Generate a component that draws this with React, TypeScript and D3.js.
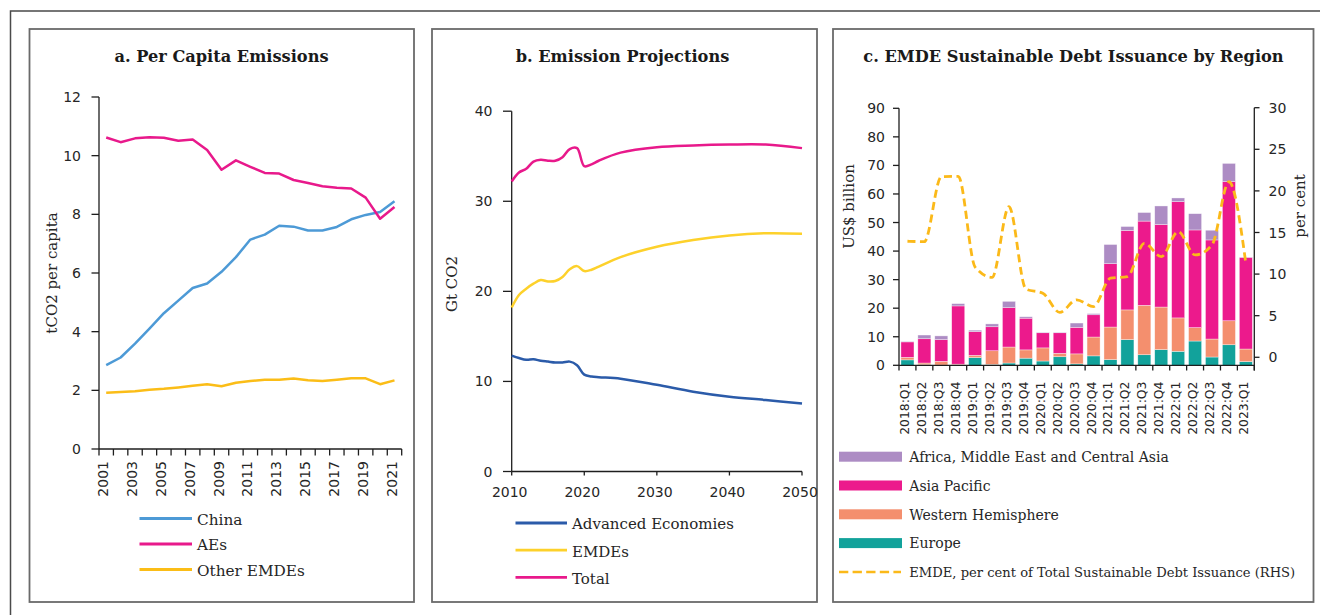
import React from "react";
import * as d3 from "d3";

// ---------- Panel a data ----------
const yearsA = [2001, 2002, 2003, 2004, 2005, 2006, 2007, 2008, 2009, 2010, 2011, 2012, 2013, 2014, 2015, 2016, 2017, 2018, 2019, 2020, 2021];
const chinaA = [2.86, 3.12, 3.59, 4.1, 4.63, 5.06, 5.49, 5.64, 6.04, 6.54, 7.14, 7.31, 7.61, 7.58, 7.45, 7.45, 7.57, 7.83, 7.98, 8.08, 8.45];
const aesA = [10.62, 10.46, 10.59, 10.63, 10.61, 10.51, 10.55, 10.19, 9.52, 9.84, 9.62, 9.41, 9.39, 9.17, 9.07, 8.96, 8.91, 8.88, 8.57, 7.85, 8.25];
const otherA = [1.92, 1.94, 1.97, 2.02, 2.05, 2.1, 2.16, 2.21, 2.14, 2.26, 2.32, 2.36, 2.36, 2.4, 2.34, 2.32, 2.36, 2.41, 2.41, 2.21, 2.34];
const yTicksA = [0, 2, 4, 6, 8, 10, 12];
const xLabelsA = [2001, 2003, 2005, 2007, 2009, 2011, 2013, 2015, 2017, 2019, 2021];

// ---------- Panel b data ----------
const yearsB = [2010, 2011, 2012, 2013, 2014, 2015, 2016, 2017, 2018, 2019, 2020, 2021, 2022, 2025, 2030, 2035, 2040, 2045, 2050];
const aeB = [12.87, 12.6, 12.4, 12.45, 12.3, 12.2, 12.1, 12.1, 12.2, 11.8, 10.75, 10.55, 10.47, 10.3, 9.62, 8.86, 8.3, 7.94, 7.55];
const emdeB = [18.2, 19.6, 20.3, 20.85, 21.25, 21.1, 21.15, 21.6, 22.45, 22.8, 22.25, 22.4, 22.75, 23.8, 24.95, 25.7, 26.2, 26.45, 26.4];
const totalB = [32.2, 33.2, 33.6, 34.4, 34.6, 34.5, 34.5, 34.9, 35.8, 35.9, 33.9, 34.1, 34.5, 35.4, 36.0, 36.2, 36.3, 36.3, 35.9];
const yTicksB = [0, 10, 20, 30, 40];
const xTicksB = [2010, 2020, 2030, 2040, 2050];

// ---------- Panel c data ----------
const quarters = ["2018:Q1", "2018:Q2", "2018:Q3", "2018:Q4", "2019:Q1", "2019:Q2", "2019:Q3", "2019:Q4", "2020:Q1", "2020:Q2", "2020:Q3", "2020:Q4", "2021:Q1", "2021:Q2", "2021:Q3", "2021:Q4", "2022:Q1", "2022:Q2", "2022:Q3", "2022:Q4", "2023:Q1"];
const europe = [1.9, 0.2, 0.1, 0.1, 2.7, 0.3, 0.8, 2.5, 1.5, 3.0, 0.5, 3.3, 2.0, 9.0, 3.7, 5.5, 4.9, 8.5, 2.9, 7.2, 1.3];
const westernHem = [0.9, 0.6, 1.3, 0.3, 0.8, 4.8, 5.6, 2.9, 4.6, 1.2, 3.5, 6.6, 11.4, 10.4, 17.3, 14.9, 11.7, 4.7, 6.3, 8.4, 4.4];
const asiaPacific = [5.4, 8.5, 7.6, 20.4, 8.3, 8.4, 13.8, 11.1, 5.3, 7.2, 9.3, 7.8, 22.2, 27.8, 29.5, 28.9, 40.7, 34.2, 34.7, 48.7, 32.1];
const africaMECA = [0.2, 1.3, 1.3, 0.8, 0.5, 1.0, 2.2, 0.5, 0.2, 0.2, 1.5, 0.4, 6.7, 1.4, 3.0, 6.5, 1.3, 5.7, 3.4, 6.4, 0.1];
const emdeShare = [13.95, 13.9, 21.7, 21.75, 10.85, 9.6, 18.1, 8.2, 7.7, 5.4, 6.9, 6.1, 9.5, 9.7, 13.7, 12.1, 15.1, 12.3, 13.5, 21.1, 11.3];
const yTicksCL = [0, 10, 20, 30, 40, 50, 60, 70, 80, 90];
const yTicksCR = [0, 5, 10, 15, 20, 25, 30];

const SERIF = "'DejaVu Serif', serif";
const SANS = "'DejaVu Sans', sans-serif";
const TXT = "#262626";
const AX = "#1e1e1e";

const C = {
  china: "#4d9ad6",
  aes: "#e8198b",
  other: "#fbbd17",
  aeB: "#2b5ba9",
  emdeB: "#fdd12b",
  totalB: "#e8198b",
  ameca: "#ad8cc4",
  ap: "#ec1a8c",
  wh: "#f48f6e",
  eu: "#12a29b",
  dash: "#fbb919",
};

function PanelA() {
  const x = d3.scaleBand<number>().domain(yearsA).range([99, 401.7]).padding(0);
  const y = d3.scaleLinear().domain([0, 12]).range([449, 97]);
  const cx = (yr: number) => (x(yr) as number) + x.bandwidth() / 2;
  const line = (vals: number[]) =>
    d3.line<number>().x((_, i) => cx(yearsA[i])).y((v) => y(v))(vals) as string;
  const boundaries = [...yearsA.map((yr) => x(yr) as number), 401.7];
  const legend = [
    { name: "China", color: C.china },
    { name: "AEs", color: C.aes },
    { name: "Other EMDEs", color: C.other },
  ];
  return (
    <g>
      <rect x={29.5} y={29} width={384.5} height={573} fill="#fff" stroke="#6a6a6a" strokeWidth={1.8} />
      <text x={221.5} y={62} textAnchor="middle" fontFamily={SERIF} fontWeight="bold" fontSize={16.2} fill="#1a1a1a">
        a. Per Capita Emissions
      </text>
      <line x1={99} x2={99} y1={97} y2={449} stroke={AX} strokeWidth={1.3} />
      {yTicksA.map((t) => (
        <g key={t}>
          <line x1={91.5} x2={99} y1={y(t)} y2={y(t)} stroke={AX} strokeWidth={1.3} />
          <text x={81} y={y(t)} dy="0.36em" textAnchor="end" fontFamily={SANS} fontSize={14} fill={TXT}>
            {t}
          </text>
        </g>
      ))}
      <text transform="translate(52,273) rotate(-90)" textAnchor="middle" dy="0.35em" fontFamily={SERIF} fontSize={15} fill={TXT}>
        tCO2 per capita
      </text>
      <line x1={99} x2={401.7} y1={449} y2={449} stroke={AX} strokeWidth={1.3} />
      {boundaries.map((b, i) => (
        <line key={i} x1={b} x2={b} y1={449} y2={455.5} stroke={AX} strokeWidth={1.3} />
      ))}
      {xLabelsA.map((yr) => (
        <text key={yr} transform={`translate(${cx(yr) - 3},461) rotate(-90)`} textAnchor="end" dy="0.36em" fontFamily={SANS} fontSize={14} fill={TXT}>
          {yr}
        </text>
      ))}
      <path d={line(otherA)} fill="none" stroke={C.other} strokeWidth={2.5} strokeLinejoin="round" />
      <path d={line(chinaA)} fill="none" stroke={C.china} strokeWidth={2.5} strokeLinejoin="round" />
      <path d={line(aesA)} fill="none" stroke={C.aes} strokeWidth={2.5} strokeLinejoin="round" />
      {legend.map((l, i) => (
        <g key={l.name}>
          <line x1={139.5} x2={192} y1={518.5 + i * 25.5} y2={518.5 + i * 25.5} stroke={l.color} strokeWidth={2.8} />
          <text x={197} y={518.5 + i * 25.5 + 6.3} fontFamily={SERIF} fontSize={15.3} fill={TXT}>
            {l.name}
          </text>
        </g>
      ))}
    </g>
  );
}

function PanelB() {
  const x = d3.scaleLinear().domain([2010, 2050]).range([511.7, 802]);
  const y = d3.scaleLinear().domain([0, 40]).range([471.5, 111.2]);
  const line = (vals: number[]) =>
    d3
      .line<number>()
      .x((_, i) => x(yearsB[i]))
      .y((v) => y(v))
      .curve(d3.curveCatmullRom.alpha(0.5))(vals) as string;
  const legend = [
    { name: "Advanced Economies", color: C.aeB },
    { name: "EMDEs", color: C.emdeB },
    { name: "Total", color: C.totalB },
  ];
  return (
    <g>
      <rect x={432} y={29} width={385} height={573} fill="#fff" stroke="#6a6a6a" strokeWidth={1.8} />
      <text x={622.5} y={62} textAnchor="middle" fontFamily={SERIF} fontWeight="bold" fontSize={16.2} fill="#1a1a1a">
        b. Emission Projections
      </text>
      <line x1={511.7} x2={511.7} y1={111.2} y2={471.5} stroke={AX} strokeWidth={1.3} />
      {yTicksB.map((t) => (
        <g key={t}>
          <line x1={503} x2={511.7} y1={y(t)} y2={y(t)} stroke={AX} strokeWidth={1.3} />
          <text x={492.5} y={y(t)} dy="0.36em" textAnchor="end" fontFamily={SANS} fontSize={14} fill={TXT}>
            {t}
          </text>
        </g>
      ))}
      <text transform="translate(452,284) rotate(-90)" textAnchor="middle" dy="0.35em" fontFamily={SERIF} fontSize={15} fill={TXT}>
        Gt CO2
      </text>
      <line x1={511.7} x2={802} y1={471.5} y2={471.5} stroke={AX} strokeWidth={1.3} />
      {xTicksB.map((t) => (
        <g key={t}>
          <line x1={x(t)} x2={x(t)} y1={471.5} y2={475.5} stroke={AX} strokeWidth={1.3} />
          <text x={x(t) - 2} y={497} textAnchor="middle" fontFamily={SANS} fontSize={14} fill={TXT}>
            {t}
          </text>
        </g>
      ))}
      <path d={line(aeB)} fill="none" stroke={C.aeB} strokeWidth={2.5} />
      <path d={line(emdeB)} fill="none" stroke={C.emdeB} strokeWidth={2.5} />
      <path d={line(totalB)} fill="none" stroke={C.totalB} strokeWidth={2.5} />
      {legend.map((l, i) => (
        <g key={l.name}>
          <line x1={515.5} x2={567} y1={523 + i * 27.2} y2={523 + i * 27.2} stroke={l.color} strokeWidth={2.8} />
          <text x={572} y={523 + i * 27.2 + 6.3} fontFamily={SERIF} fontSize={15} fill={TXT}>
            {l.name}
          </text>
        </g>
      ))}
    </g>
  );
}

function PanelC() {
  const x = d3.scaleBand<string>().domain(quarters).range([899, 1254.3]).paddingInner(0.23).paddingOuter(0.115);
  const yL = d3.scaleLinear().domain([0, 90]).range([365.3, 108.3]);
  const yR = d3.scaleLinear().domain([-1, 30]).range([365.6, 107.7]);
  const step = x.step();
  const gap = (step - x.bandwidth()) / 2;
  const cx = (q: string) => (x(q) as number) + x.bandwidth() / 2;
  const rows = quarters.map((q, i) => ({
    q,
    eu: europe[i],
    wh: westernHem[i],
    ap: asiaPacific[i],
    ameca: africaMECA[i],
  }));
  const keys = ["eu", "wh", "ap", "ameca"];
  const colors: Record<string, string> = { eu: C.eu, wh: C.wh, ap: C.ap, ameca: C.ameca };
  const stacked = d3.stack<any>().keys(keys)(rows);
  const boundaries = [...quarters.map((q) => (x(q) as number) - gap), 1254.3];
  const dashLine = d3
    .line<number>()
    .x((_, i) => cx(quarters[i]))
    .y((v) => yR(v))
    .curve(d3.curveMonotoneX)(emdeShare) as string;
  const legend = [
    { name: "Africa, Middle East and Central Asia", color: C.ameca },
    { name: "Asia Pacific", color: C.ap },
    { name: "Western Hemisphere", color: C.wh },
    { name: "Europe", color: C.eu },
  ];
  return (
    <g>
      <rect x={833} y={29} width={480.5} height={573} fill="#fff" stroke="#6a6a6a" strokeWidth={1.8} />
      <text x={1073.5} y={62} textAnchor="middle" fontFamily={SERIF} fontWeight="bold" fontSize={16.2} fill="#1a1a1a">
        c. EMDE Sustainable Debt Issuance by Region
      </text>
      {stacked.map((s) => (
        <g key={s.key} fill={colors[s.key]}>
          {s.map((d: any, i: number) => (
            <rect
              key={i}
              x={x(quarters[i])}
              width={x.bandwidth()}
              y={yL(d[1])}
              height={Math.max(0, yL(d[0]) - yL(d[1]))}
              stroke="#ffffff"
              strokeOpacity={0.6}
              strokeWidth={0.6}
            />
          ))}
        </g>
      ))}
      <line x1={899} x2={899} y1={108.3} y2={365.3} stroke={AX} strokeWidth={1.3} />
      {yTicksCL.map((t) => (
        <g key={t}>
          <line x1={893} x2={899} y1={yL(t)} y2={yL(t)} stroke={AX} strokeWidth={1.3} />
          <text x={885} y={yL(t)} dy="0.36em" textAnchor="end" fontFamily={SANS} fontSize={14} fill={TXT}>
            {t}
          </text>
        </g>
      ))}
      <text transform="translate(848.5,206.5) rotate(-90)" textAnchor="middle" dy="0.35em" fontFamily={SERIF} fontSize={15} fill={TXT}>
        US$ billion
      </text>
      <line x1={1254.3} x2={1254.3} y1={107.7} y2={370.5} stroke={AX} strokeWidth={1.3} />
      {yTicksCR.map((t) => (
        <g key={t}>
          <line x1={1254.3} x2={1259.5} y1={yR(t)} y2={yR(t)} stroke={AX} strokeWidth={1.3} />
          <text x={1268.5} y={yR(t)} dy="0.36em" textAnchor="start" fontFamily={SANS} fontSize={14} fill={TXT}>
            {t}
          </text>
        </g>
      ))}
      <text transform="translate(1300,206) rotate(-90)" textAnchor="middle" dy="0.35em" fontFamily={SERIF} fontSize={15} fill={TXT}>
        per cent
      </text>
      <line x1={899} x2={1254.3} y1={365.3} y2={365.3} stroke={AX} strokeWidth={1.3} />
      {boundaries.map((b, i) => (
        <line key={i} x1={b} x2={b} y1={365.3} y2={370.5} stroke={AX} strokeWidth={1.3} />
      ))}
      {quarters.map((q) => (
        <text key={q} transform={`translate(${cx(q) - 2.5},381.5) rotate(-90)`} textAnchor="end" dy="0.36em" fontFamily={SANS} fontSize={12.4} fill={TXT}>
          {q}
        </text>
      ))}
      <path d={dashLine} fill="none" stroke={C.dash} strokeWidth={2.8} strokeDasharray="8 4.5" />
      {legend.map((l, i) => (
        <g key={l.name}>
          <rect x={839} y={456.7 + i * 28.8 - 5} width={63} height={10} fill={l.color} />
          <text x={909.3} y={456.7 + i * 28.8 + 5.2} fontFamily={SERIF} fontSize={14} fill={TXT}>
            {l.name}
          </text>
        </g>
      ))}
      <line x1={839} x2={901} y1={572} y2={572} stroke={C.dash} strokeWidth={2.6} strokeDasharray="9.3 4.3" />
      <text x={909.3} y={577} fontFamily={SERIF} fontSize={13.1} fill={TXT}>
        EMDE, per cent of Total Sustainable Debt Issuance (RHS)
      </text>
    </g>
  );
}

export default function App() {
  return (
    <svg
      width={1320}
      height={615}
      viewBox="0 0 1320 615"
      style={{ position: "absolute", left: 0, top: 0, background: "#fff" }}
    >
      <rect x={0} y={0} width={1320} height={615} fill="#fff" />
      <rect x={10.5} y={11} width={1400} height={700} fill="none" stroke="#4a4a4a" strokeWidth={1.5} />
      <PanelA />
      <PanelB />
      <PanelC />
    </svg>
  );
}
